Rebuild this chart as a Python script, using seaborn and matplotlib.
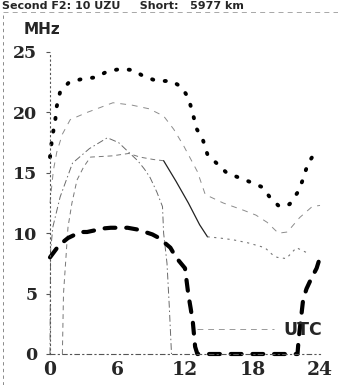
import matplotlib
matplotlib.use("Agg")
import matplotlib.pyplot as plt
import numpy as np
import pandas as pd
import seaborn as sns
from matplotlib.lines import Line2D

# hours (UTC) and frequencies (MHz)
hours_upper = [0, 0.2, 0.45, 0.6, 0.9, 1.7, 3.0, 4.1, 5.1, 6.3, 7.4, 8.3, 9.5, 10.8, 11.7,
               12.3, 12.7, 13.0, 13.6, 14.0, 14.8, 15.7, 16.8, 17.9, 18.9, 19.6, 20.4,
               21.3, 22.1, 22.5, 22.9, 23.5]
mhz_upper = [16.3, 18.0, 19.2, 20.5, 21.7, 22.5, 22.8, 22.9, 23.4, 23.6, 23.5, 23.0, 22.6,
             22.6, 22.1, 21.2, 19.9, 18.7, 17.7, 16.5, 15.8, 15.0, 14.6, 14.2, 13.8, 12.9,
             12.2, 12.4, 13.5, 14.5, 15.7, 16.6]

hours_median = [0, 0.3, 0.6, 1.1, 1.8, 3.3, 5.6, 7.3, 8.8, 10.1, 11.0, 11.9, 13.1, 13.8,
                15.4, 16.3, 17.2, 18.3, 19.3, 20.3, 21.1, 22.2, 23.3, 24]
mhz_median = [12.5, 15.2, 16.7, 18.2, 19.4, 20.0, 20.8, 20.6, 20.3, 19.7, 18.6, 17.2, 15.1,
              13.2, 12.5, 12.2, 11.9, 11.5, 10.9, 10.0, 10.1, 11.3, 12.2, 12.3]

hours_day = [0, 0.05, 0.25, 0.9, 2.0, 3.5, 5.1, 6.1, 7.0, 7.8, 8.4, 8.9, 9.5, 10.0, 10.1,
             10.4, 10.6, 10.8]
mhz_day = [0, 8.5, 10.5, 13.0, 15.8, 17.0, 17.9, 17.5, 16.7, 16.0, 15.3, 14.6, 13.4, 12.2,
           10.0, 7.5, 4.0, 0]

hours_fot = [1.1, 1.2, 1.6, 1.95, 2.4, 3.0, 3.6, 5.5, 7.0, 8.0, 9.2, 10.1, 11.2, 12.3,
             13.3, 14.0, 15.1, 16.3, 17.6, 19.1, 19.8, 20.2, 21.0, 21.9, 22.8]
mhz_fot = [0, 5.0, 10.5, 12.5, 14.4, 15.5, 16.3, 16.4, 16.6, 16.3, 16.1, 16.0, 14.3, 12.5,
           10.7, 9.7, 9.6, 9.45, 9.2, 8.8, 8.2, 8.0, 7.9, 8.8, 8.4]

hours_luf = [0, 0.8, 1.6, 2.7, 3.3, 4.8, 5.4, 6.9, 7.8, 9.1, 9.7, 10.7, 11.2, 12.0, 12.3,
             12.5, 12.7, 12.9, 13.1, 16.0, 19.0, 22.0, 22.1, 22.5, 22.8, 23.2, 23.7, 24]
mhz_luf = [8.0, 9.0, 9.6, 10.1, 10.1, 10.4, 10.45, 10.45, 10.3, 9.9, 9.6, 8.8, 8.0, 7.1, 4.9,
           3.8, 2.6, 0.6, 0, 0, 0, 0, 1.2, 4.5, 5.4, 6.2, 7.1, 8.0]

hours_low = [13.1, 19.9]
mhz_low = [2.1, 2.1]

x_ticks = [0, 6, 12, 18, 24]
y_ticks = [0, 5, 10, 15, 20, 25]

sns.set_style("white")
plt.rcParams["font.family"] = ["DejaVu Sans"]

fig = plt.figure(figsize=(3.38, 3.85), dpi=100)
ax = fig.add_axes([50 / 338, 31 / 385, 270 / 338, 302 / 385])


def draw(h, f, dashes=None, **kws):
    df = pd.DataFrame({"UTC": h, "MHz": f})
    sns.lineplot(data=df, x="UTC", y="MHz", sort=False, estimator=None, ax=ax,
                 clip_on=False, **kws)
    line = ax.lines[-1]
    if dashes is not None:
        line.set_dashes(dashes)
    return line


draw(hours_median, mhz_median, dashes=(6, 6), color="#8c8c8c", lw=0.7)
draw(hours_day, mhz_day, dashes=(7, 3, 1.5, 3), color="#6a6a6a", lw=0.7)
draw(hours_fot[:12], mhz_fot[:12], dashes=(5, 4), color="#777777", lw=0.7)
# the steep afternoon fall of this curve is drawn solid, the night part dotted
draw(hours_fot[11:16], mhz_fot[11:16], color="#222222", lw=0.9)
draw(hours_fot[15:], mhz_fot[15:], dashes=(2, 4), color="#777777", lw=0.8)
draw(hours_low, mhz_low, dashes=(6, 5), color="#9a9a9a", lw=0.7)
lf = draw(hours_luf, mhz_luf, dashes=(2.6, 2.6), color="black", lw=3.0)
lf.set_dash_capstyle("round")
lu = draw(hours_upper, mhz_upper, dashes=(0.3, 3.0), color="black", lw=2.8)
lu.set_dash_capstyle("round")

ax.set_xlim(0, 24)
ax.set_ylim(0, 25)
ax.set_xticks(x_ticks)
ax.set_yticks(y_ticks)
ax.set_xlabel("")
ax.set_ylabel("")
for side in ["top", "right"]:
    ax.spines[side].set_visible(False)
ax.spines["left"].set_linestyle((0, (1, 3)))
ax.spines["left"].set_color("#555555")
ax.spines["left"].set_linewidth(0.8)
ax.spines["bottom"].set_linestyle((0, (4, 3, 1, 3)))
ax.spines["bottom"].set_color("#555555")
ax.spines["bottom"].set_linewidth(0.8)
ax.tick_params(axis="y", length=3, width=0.8, color="#555555", pad=6, left=True)
ax.tick_params(axis="x", length=0, pad=5)
for lab in ax.get_yticklabels():
    lab.set_fontfamily("DejaVu Serif")
    lab.set_fontweight("bold")
    lab.set_fontsize(12.5)
for lab in ax.get_xticklabels():
    lab.set_fontfamily("DejaVu Serif")
    lab.set_fontweight("bold")
    lab.set_fontsize(13.5)

fig.text(42 / 338, 1 - 29 / 385, "MHz", fontsize=11, fontweight="bold",
         ha="center", va="center")
fig.text(303 / 338, 1 - 330 / 385, "UTC", fontsize=12.5, fontweight="bold",
         ha="center", va="center")
fig.text(2 / 338, 1 - 9 / 385, "Second F2: 10 UZU     Short:   5977 km", fontsize=8,
         fontweight="bold", ha="left", va="baseline")

# scanned page frame
fig.add_artist(Line2D([3 / 338, 3 / 338], [0, 1 - 12 / 385], transform=fig.transFigure,
                      color="#777777", lw=0.6, linestyle=(0, (4, 4))))
fig.add_artist(Line2D([3 / 338, 1], [1 - 12 / 385, 1 - 12 / 385], transform=fig.transFigure,
                      color="#999999", lw=0.6, linestyle=(0, (6, 5))))

fig.savefig("out.png", dpi=100)
